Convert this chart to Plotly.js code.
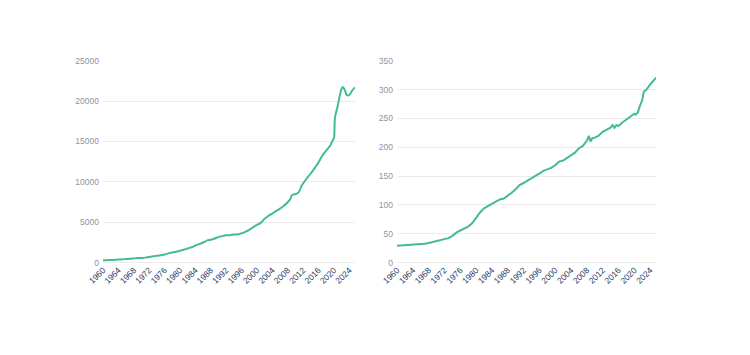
<!DOCTYPE html>
<html>
<head>
<meta charset="utf-8">
<script src="https://cdn.plot.ly/plotly-3.0.1.min.js"></script>
<style>html,body{margin:0;padding:0;background:#fff;}#chart{width:750px;height:355px;}</style>
</head>
<body>
<div id="chart"></div>
<script>
// Left series (money stock, billions)
const leftDates = ["1960-01-01","1961-01-01","1962-01-01","1963-01-01","1964-01-01","1965-01-01","1966-01-01","1967-01-01","1968-01-01","1969-01-01",
"1970-01-01","1971-01-01","1972-01-01","1973-01-01","1974-01-01","1975-01-01","1976-01-01","1977-01-01","1978-01-01","1979-01-01",
"1980-01-01","1981-01-01","1982-01-01","1983-01-01","1984-01-01","1985-01-01","1986-01-01","1987-01-01","1988-01-01","1989-01-01",
"1990-01-01","1991-01-01","1992-01-01","1993-01-01","1994-01-01","1995-01-01","1996-01-01","1997-01-01","1998-01-01","1999-01-01",
"2000-01-01","2001-01-01","2002-01-01","2003-01-01","2004-01-01","2005-01-01","2006-01-01","2007-01-01","2008-01-01","2008-09-01",
"2009-01-01","2009-07-01","2010-01-01","2010-07-01","2011-01-01","2011-08-01","2012-01-01","2013-01-01","2014-01-01","2015-01-01",
"2016-01-01","2017-01-01","2018-01-01","2019-01-01","2020-01-01","2020-02-01","2020-04-01","2020-06-01","2021-01-01","2021-06-01",
"2021-12-01","2022-04-01","2022-08-01","2023-01-01","2023-05-01","2023-10-01","2024-04-01","2024-10-01","2025-07-01"];
const leftValues = [298,312,335,363,390,424,459,480,525,568,
589,628,712,806,858,917,1021,1152,1273,1367,
1480,1600,1757,1910,2130,2310,2496,2730,2840,2990,
3170,3290,3390,3410,3490,3490,3640,3820,4050,4390,
4670,4930,5450,5800,6080,6420,6690,7040,7480,7850,
8300,8450,8480,8600,8810,9500,9800,10450,11040,11700,
12400,13250,13870,14450,15410,15500,17800,18300,19400,20400,
21400,21750,21600,21200,20750,20700,20900,21300,21700];

// Right series (consumer price index)
const rightDates = ["1960-01-01","1961-01-01","1962-01-01","1963-01-01","1964-01-01","1965-01-01","1966-01-01","1967-01-01","1968-01-01","1969-01-01",
"1970-01-01","1971-01-01","1972-01-01","1973-01-01","1974-01-01","1975-01-01","1976-01-01","1977-01-01","1978-01-01","1979-01-01",
"1980-01-01","1981-01-01","1982-01-01","1983-01-01","1984-01-01","1985-01-01","1986-01-01","1987-01-01","1988-01-01","1989-01-01",
"1990-01-01","1991-01-01","1992-01-01","1993-01-01","1994-01-01","1995-01-01","1996-01-01","1997-01-01","1998-01-01","1999-01-01",
"2000-01-01","2001-01-01","2002-01-01","2003-01-01","2004-01-01","2005-01-01","2006-01-01","2007-01-01","2008-01-01","2008-07-01",
"2008-12-01","2009-06-01","2010-01-01","2011-01-01","2012-01-01","2013-01-01","2014-01-01","2014-07-01","2015-01-01","2015-07-01",
"2016-01-01","2017-01-01","2018-01-01","2019-01-01","2020-01-01","2020-05-01","2020-12-01","2021-06-01","2022-01-01","2022-06-01",
"2023-01-01","2024-01-01","2025-01-01","2025-07-01"];
const rightValues = [29.3,29.8,30.0,30.4,30.9,31.2,31.8,32.9,34.1,35.6,
37.8,39.8,41.1,42.6,46.6,52.1,55.8,58.5,62.5,68.3,
77.8,87.0,94.3,97.8,101.9,105.5,109.6,111.2,115.7,121.1,
127.4,134.6,138.1,142.6,146.2,150.3,154.4,159.1,161.6,164.3,
168.8,175.1,177.1,181.7,185.2,190.7,198.3,202.4,211.1,219.9,
210.2,215.7,216.7,220.2,226.7,230.3,233.9,238.3,233.7,238.7,
236.9,242.8,247.9,251.7,258.0,256.4,260.5,271.7,281.1,296.3,
299.2,308.4,317.7,320.5];

const lineColor = "#42bb96";
const xRange = ["1960-01-01","2025-07-01"];
const fontFam = "Liberation Sans, Arial, sans-serif";

function xAxis(domain, anchor){
  return {
    domain: domain, anchor: anchor, type: "date", range: xRange,
    tick0: "1960-01-01", dtick: "M48", tickformat: "%Y", tickangle: -45,
    showgrid: false, zeroline: false, showline: false, ticks: "",
    tickfont: {family: fontFam, size: 8.5, color: "#2e3a66"}
  };
}
function yAxis(domain, anchor, range, dtick){
  return {
    domain: domain, anchor: anchor, range: range, dtick: dtick, tickformat: "d",
    showgrid: true, gridcolor: "#ebebeb", gridwidth: 1,
    zeroline: true, zerolinecolor: "#ebebeb", zerolinewidth: 1,
    showline: false, ticks: "", ticklabelstandoff: 3,
    tickfont: {family: fontFam, size: 8.5, color: "#8f93a8"}
  };
}

const traces = [
  {x: leftDates, y: leftValues, type: "scatter", mode: "lines", xaxis: "x", yaxis: "y",
   line: {color: lineColor, width: 2, shape: "spline", smoothing: 0.6}, hoverinfo: "skip"},
  {x: rightDates, y: rightValues, type: "scatter", mode: "lines", xaxis: "x2", yaxis: "y2",
   line: {color: lineColor, width: 2}, hoverinfo: "skip"}
];

const yDom = [1 - 262.7/355, 1 - 60.7/355];
const layout = {
  width: 750, height: 355,
  margin: {l: 0, r: 0, t: 0, b: 0},
  paper_bgcolor: "#ffffff", plot_bgcolor: "#ffffff",
  showlegend: false,
  xaxis: xAxis([103/750, 355/750], "y"),
  yaxis: yAxis(yDom, "x", [0, 25000], 5000),
  xaxis2: xAxis([397/750, 656/750], "y2"),
  yaxis2: yAxis(yDom, "x2", [0, 350], 50)
};

Plotly.newPlot("chart", traces, layout, {displayModeBar: false, staticPlot: true});
</script>
</body>
</html>
